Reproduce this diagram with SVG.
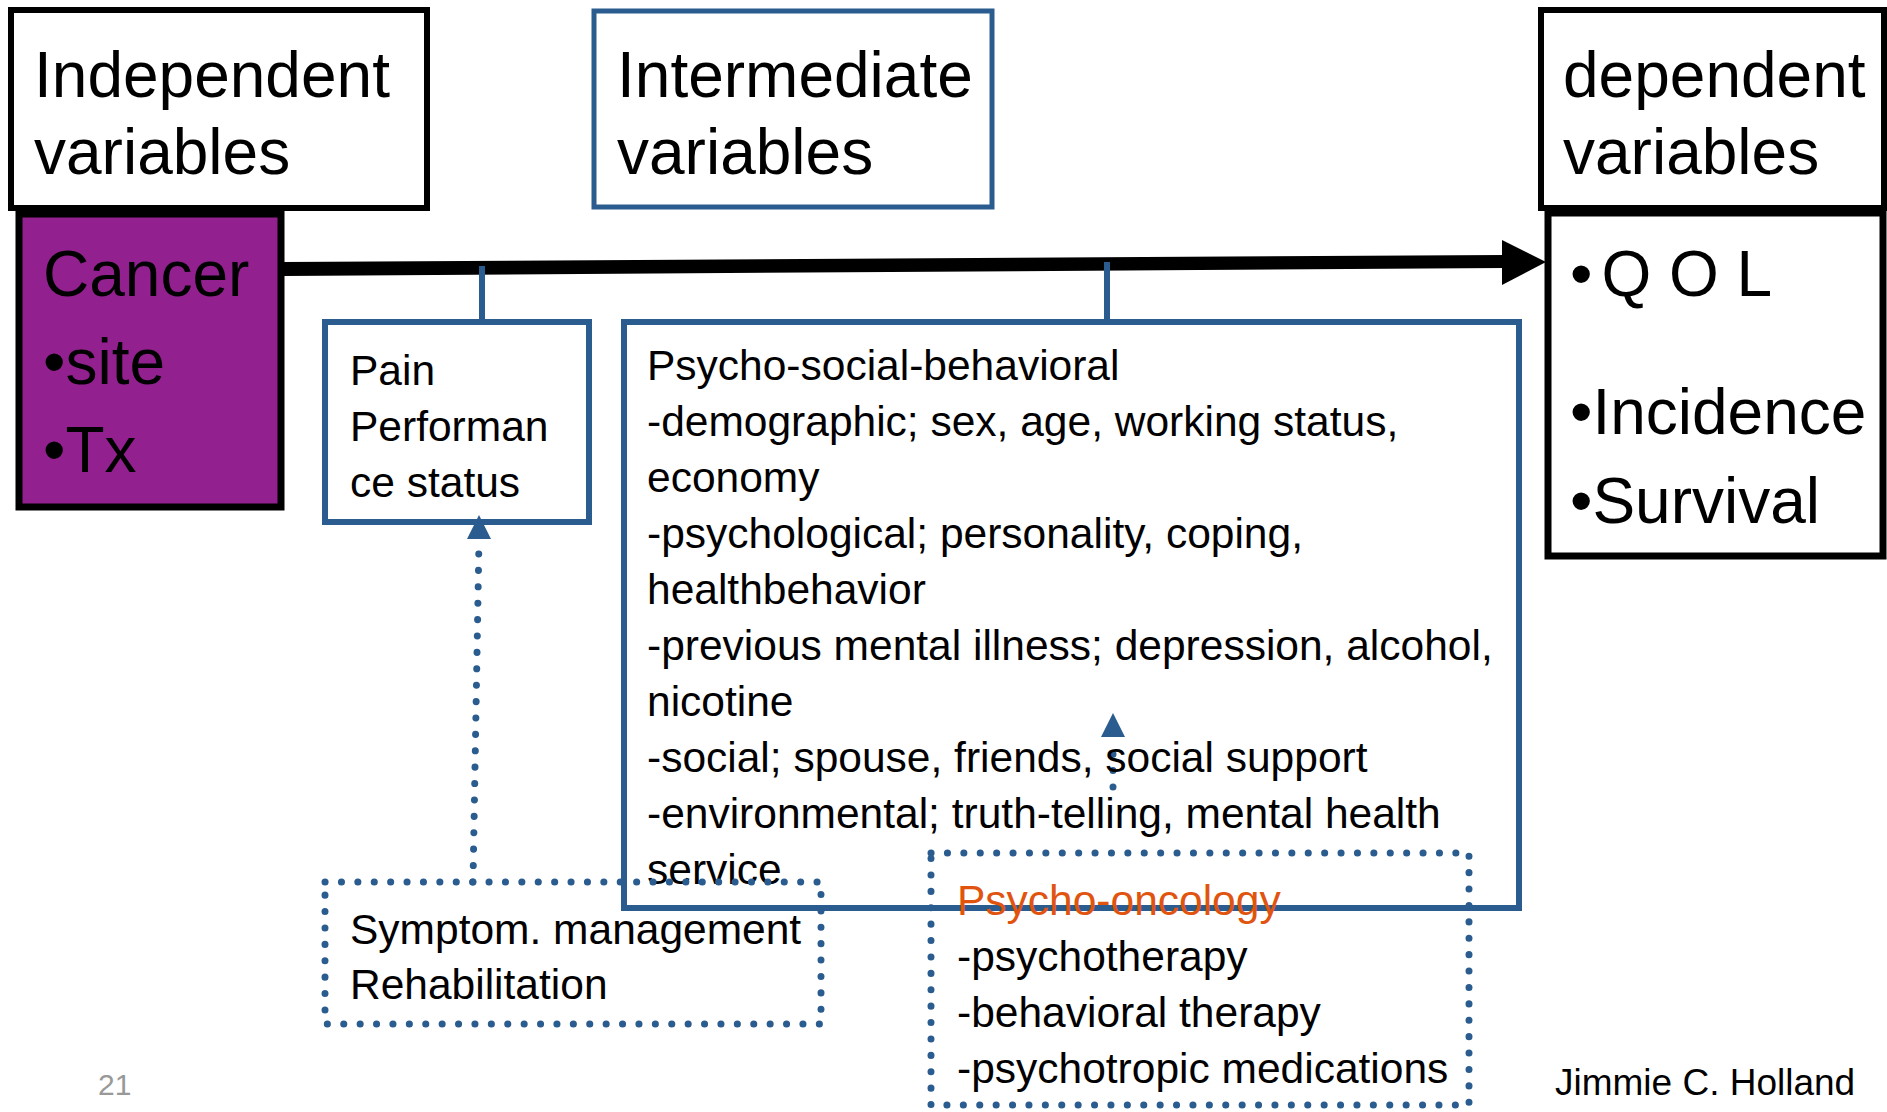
<svg xmlns="http://www.w3.org/2000/svg" width="1887" height="1112" viewBox="0 0 1887 1112">
<style>
text{font-family:"Liberation Sans",Arial,sans-serif;fill:#000}
.big{font-size:64px}
.mid{font-size:42.5px}
.blk{fill:#fff;stroke:#000;stroke-width:6}
.blue{fill:none;stroke:#2B5C8F;stroke-width:6}
.dot{fill:none;stroke:#2B5C8F;stroke-width:7;stroke-linecap:round;stroke-dasharray:0.1 16.3}
</style>
<rect width="1887" height="1112" fill="#fff"/>
<g id="independent-header">
<rect class="blk" x="11" y="10" width="416" height="198"/>
<text class="big" x="34" y="97">Independent</text>
<text class="big" x="34" y="174">variables</text>
</g>
<g id="intermediate-header">
<rect class="blue" x="594" y="11" width="398" height="196" style="stroke-width:5"/>
<text class="big" x="617" y="97">Intermediate</text>
<text class="big" x="617" y="174">variables</text>
</g>
<g id="dependent-header">
<rect class="blk" x="1541" y="10" width="343" height="198"/>
<text class="big" x="1563" y="97">dependent</text>
<text class="big" x="1563" y="174">variables</text>
</g>
<g id="cancer">
<rect x="19" y="214" width="262" height="293" fill="#92208F" stroke="#000" stroke-width="7"/>
<text class="big" x="43" y="296">Cancer</text>
<text class="big" x="43" y="384">•site</text>
<text class="big" x="43" y="472">•Tx</text>
</g>
<g id="outcomes">
<rect x="1548" y="213" width="335" height="343" fill="#fff" stroke="#000" stroke-width="7"/>
<text class="big" x="1570" y="296">•<tspan dx="9">Q O L</tspan></text>
<text class="big" x="1570" y="434">•Incidence</text>
<text class="big" x="1570" y="523">•Survival</text>
</g>
<g id="connectors">
<polygon points="284,262 1504,255 1504,268 284,276" fill="#000"/>
<polygon points="1502,240 1546,262 1502,285" fill="#000"/>
<line x1="482" y1="266" x2="482" y2="323" stroke="#2B5C8F" stroke-width="6"/>
<line x1="1107" y1="262" x2="1107" y2="320" stroke="#2B5C8F" stroke-width="6"/>
<line class="dot" x1="473" y1="882" x2="479" y2="540"/>
<polygon points="479,515 467,539 491,539" fill="#2B5C8F"/>
<line class="dot" x1="1113" y1="787" x2="1113" y2="738"/>
<polygon points="1113,713 1101,737 1125,737" fill="#2B5C8F"/>
</g>
<g id="pain">
<rect class="blue" x="325" y="322" width="264" height="200"/>
<text class="mid" x="350" y="385">Pain</text>
<text class="mid" x="350" y="441">Performan</text>
<text class="mid" x="350" y="497">ce status</text>
</g>
<g id="psychosocial">
<rect class="blue" x="624" y="322" width="895" height="586"/>
<text class="mid" x="647" y="380">Psycho-social-behavioral</text>
<text class="mid" x="647" y="436">-demographic; sex, age, working status,</text>
<text class="mid" x="647" y="492">economy</text>
<text class="mid" x="647" y="548">-psychological; personality, coping,</text>
<text class="mid" x="647" y="604">healthbehavior</text>
<text class="mid" x="647" y="660">-previous mental illness; depression, alcohol,</text>
<text class="mid" x="647" y="716">nicotine</text>
<text class="mid" x="647" y="772">-social; spouse, friends, social support</text>
<text class="mid" x="647" y="828">-environmental; truth-telling, mental health</text>
<text class="mid" x="647" y="884">service</text>
</g>
<g id="symptom">
<rect class="dot" x="325" y="882" width="496" height="142"/>
<text class="mid" x="350" y="944">Symptom. management</text>
<text class="mid" x="350" y="999">Rehabilitation</text>
</g>
<g id="psycho-oncology">
<rect class="dot" x="931" y="853" width="538" height="252"/>
<text class="mid" x="957" y="915" style="fill:#E0540F">Psycho-oncology</text>
<text class="mid" x="957" y="971">-psychotherapy</text>
<text class="mid" x="957" y="1027">-behavioral therapy</text>
<text class="mid" x="957" y="1083">-psychotropic medications</text>
</g>
<g id="footer">
<text x="98" y="1095" style="font-size:30px;fill:#999">21</text>
<text x="1555" y="1095" style="font-size:37px">Jimmie C. Holland</text>
</g>
</svg>
